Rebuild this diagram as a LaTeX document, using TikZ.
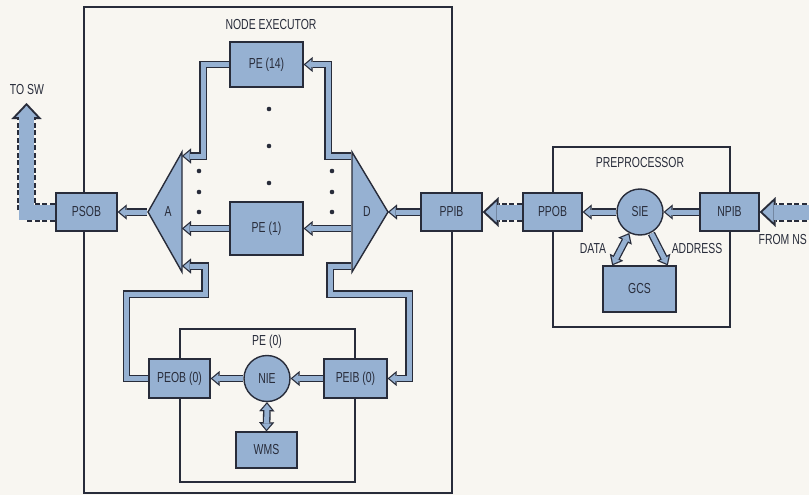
\documentclass[tikz,border=0pt]{standalone}
\usepackage{fontspec}
\setmainfont{Liberation Sans}[FakeStretch=0.72]
\usetikzlibrary{arrows.meta,positioning}
\definecolor{nxblue}{RGB}{150,177,210}
\definecolor{nxink}{RGB}{40,44,58}
\definecolor{nxpaper}{RGB}{248,246,241}

\tikzset{
  outertip/.tip={Triangle[length=9pt,width=15pt,line width'=0.01pt]},
  innertip/.tip={Triangle[length=5.8pt,width=9.6pt,line width'=0.01pt]},
  outerbig/.tip={Triangle[length=16pt,width=30pt,line width'=0.01pt]},
  innerbig/.tip={Triangle[length=11pt,width=20.6pt,line width'=0.01pt]}
}

\begin{document}
\begin{tikzpicture}[x=1pt, y=-1pt,
    font=\fontsize{14.5}{16}\selectfont, text=nxink,
    unit/.style={draw=nxink, fill=nxblue, line width=1.4pt, inner sep=0pt},
    hub/.style={unit, circle, minimum size=46pt},
    frame/.style={draw=nxink, line width=1.3pt},
    pipe/.style={draw=nxblue, line width=5pt, -innertip, shorten >=1.9pt, shorten <=0.7pt,
      preaction={draw=nxink, line width=7.6pt, -outertip, shorten >=0pt, shorten <=0.7pt}},
    pipeboth/.style={draw=nxblue, line width=5pt, innertip-innertip, shorten >=1.9pt, shorten <=1.9pt,
      preaction={draw=nxink, line width=7.6pt, outertip-outertip, shorten >=0pt, shorten <=0pt}},
    bigpipe/.style={draw=nxblue, line width=15pt, -innerbig, shorten >=2.9pt, shorten <=0.7pt,
      preaction={draw=nxink, line width=19pt, dash pattern=on 5pt off 2.5pt, -outerbig, shorten >=0pt, shorten <=0.7pt}}
  ]
  \useasboundingbox (0,0) rectangle (809,495);
  \fill[nxpaper] (0,0) rectangle (809,495);

  % enclosing frames
  \draw[frame] (84,7) rectangle (452,493);
  \draw[frame] (553,147) rectangle (730,327);
  \draw[frame] (180,329) rectangle (355,482);

  \node (exlabel) at (271,25) {NODE EXECUTOR};
  \node (prelabel) at (640,163) {PREPROCESSOR};
  \node (pe0label) at (267,342) {PE (0)};
  \node (swlabel) at (27,90) {TO SW};
  \node (datalabel) at (593,249) {DATA};
  \node (addrlabel) at (697,249) {ADDRESS};
  \node[anchor=east, inner sep=1pt] (nslabel) at (808,240) {FROM NS};

  % arbiter and distributor
  \coordinate (Atop) at (182,152);
  \coordinate (Abot) at (182,272);
  \coordinate (Atip) at (148,212);
  \coordinate (Dtop) at (352,152);
  \coordinate (Dbot) at (352,272);
  \coordinate (Dtip) at (388,212);
  \draw[unit, line join=miter] (Atop) -- (Abot) -- (Atip) -- cycle;
  \draw[unit, line join=miter] (Dtop) -- (Dbot) -- (Dtip) -- cycle;
  \node (A) at (168,212) {A};
  \node (D) at (367,212) {D};
  \coordinate (A14) at (182,156);
  \coordinate (A1) at (182,228.5);
  \coordinate (A0) at (182,266);
  \coordinate (D14) at (352,156);
  \coordinate (D1) at (352,228.5);
  \coordinate (D0) at (352,266);

  % units
  \node[unit, minimum width=73pt, minimum height=45pt] (pe14) at (266.5,64.5) {PE (14)};
  \node[unit, minimum width=73pt, minimum height=53pt] (pe1) at (266.5,228.5) {PE (1)};
  \node[unit, minimum width=61pt, minimum height=38pt] (psob) at (86.5,212) {PSOB};
  \node[unit, minimum width=61pt, minimum height=38pt] (ppib) at (451.5,212) {PPIB};
  \node[unit, minimum width=59pt, minimum height=38pt] (ppob) at (552.5,212) {PPOB};
  \node[unit, minimum width=59pt, minimum height=38pt] (npib) at (729.5,212) {NPIB};
  \node[hub] (sie) at (640,212) {SIE};
  \node[unit, minimum width=73pt, minimum height=46pt] (gcs) at (639.5,289) {GCS};
  \node[unit, minimum width=61pt, minimum height=39pt] (peob) at (179.5,378.5) {PEOB (0)};
  \node[unit, minimum width=63pt, minimum height=39pt] (peib) at (355.5,378.5) {PEIB (0)};
  \node[hub] (nie) at (267,378.5) {NIE};
  \node[unit, minimum width=61pt, minimum height=36pt] (wms) at (266.5,450) {WMS};

  % elided processing elements
  \foreach \y in {171,192,212} {
    \fill[nxink] (199,\y) circle (2.3pt);
    \fill[nxink] (332,\y) circle (2.3pt);
  }
  \foreach \y in {109,146,183}
    \fill[nxink] (269,\y) circle (2.3pt);

  % data paths
  \coordinate (swout) at (26.5,103);
  \coordinate (nsin) at (815,212);
  \draw[pipe] (pe14.west) -| ([xshift=21pt]A14) -- (A14);
  \draw[pipe] (D14) -- ++(-24,0) |- (pe14.east);
  \draw[pipe] (pe1.west) -- (A1);
  \draw[pipe] (D1) -- (pe1.east);
  \draw[pipe] (Atip) -- (psob.east);
  \draw[pipe] (peob.west) -- ++(-22,0) |- (205,294) |- (A0);
  \draw[pipe] (D0) -- ++(-22,0) |- (409,294) |- (peib.east);
  \draw[pipe] (nie.west) -- (peob.east);
  \draw[pipe] (peib.west) -- (nie.east);
  \draw[pipeboth] (nie.south) -- (wms.north);
  \draw[pipe] (ppib.west) -- (Dtip);
  \draw[bigpipe] (ppob.west) -- (ppib.east);
  \draw[pipe] (sie.west) -- (ppob.east);
  \draw[pipe] (npib.west) -- (sie.east);
  \draw[bigpipe] (nsin) -- (npib.east);
  \draw[bigpipe] (psob.west) -| (swout);
  \draw[pipeboth] (sie.-117) -- ([xshift=10pt]gcs.north west);
  \draw[pipe] (sie.-62) -- ([xshift=-9pt]gcs.north east);
\end{tikzpicture}
\end{document}
